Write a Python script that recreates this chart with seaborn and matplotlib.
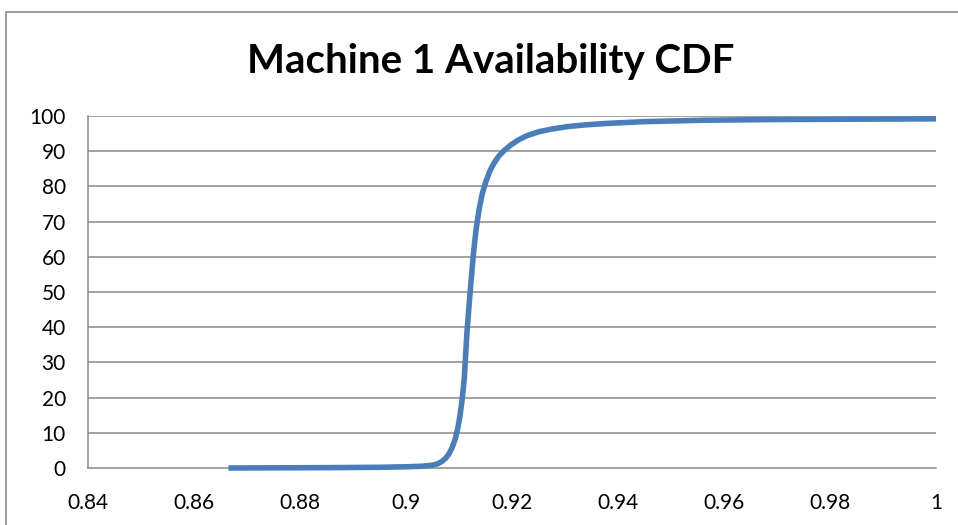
import matplotlib
matplotlib.use("Agg")
import matplotlib.pyplot as plt
import matplotlib.patches as mpatches
import seaborn as sns
import pandas as pd

availability = [0.8665, 0.875, 0.885, 0.895, 0.900, 0.903, 0.905, 0.906, 0.9068,
                0.9075, 0.9081, 0.9087, 0.9093, 0.9098, 0.9102, 0.9106, 0.9110,
                0.9115, 0.9121, 0.9127, 0.9132, 0.9138, 0.9144, 0.9151, 0.9158,
                0.9166, 0.9175, 0.9186, 0.9198, 0.9212, 0.9228, 0.9250, 0.9275,
                0.9305, 0.9340, 0.9380, 0.945, 0.956, 0.970, 0.985, 1.000]
cdf_percent = [0.0, 0.05, 0.1, 0.2, 0.35, 0.5, 0.8, 1.2, 1.9,
               2.8, 4.0, 5.8, 8.3, 11.5, 15.0, 19.5, 25.5,
               38.5, 50.0, 60.5, 67.5, 73.5, 78.0, 81.5, 84.3,
               86.6, 88.6, 90.3, 91.8, 93.2, 94.4, 95.5, 96.3,
               97.0, 97.5, 97.9, 98.4, 98.8, 99.0, 99.1, 99.2]
x_ticks = [0.84, 0.86, 0.88, 0.9, 0.92, 0.94, 0.96, 0.98, 1.0]
x_tick_labels = ["0.84", "0.86", "0.88", "0.9", "0.92", "0.94", "0.96", "0.98", "1"]
y_ticks = [0, 10, 20, 30, 40, 50, 60, 70, 80, 90, 100]
title = "Machine 1 Availability CDF"

sns.set_style("white")
plt.rcParams['font.family'] = ['Lato', 'DejaVu Sans']

df = pd.DataFrame({"availability": availability, "cdf": cdf_percent})

fig = plt.figure(figsize=(9.58, 5.25), dpi=100)
ax = fig.add_axes([88/958, (525-468)/525, (936-88)/958, (468-116)/525])

grid_color = "#898989"
for y in y_ticks[1:]:
    ax.axhline(y, color=grid_color, lw=1.1, zorder=0)

sns.lineplot(data=df, x="availability", y="cdf", ax=ax, color="#4A7EBB",
             linewidth=4.0, solid_capstyle="butt", solid_joinstyle="round",
             zorder=3, clip_on=False)

ax.set_xlim(0.84, 1.0)
ax.set_ylim(0, 100)
ax.set_xticks(x_ticks)
ax.set_xticklabels(x_tick_labels, fontsize=15)
ax.set_yticks(y_ticks)
ax.set_yticklabels([str(v) for v in y_ticks], fontsize=15)
ax.set_xlabel("")
ax.set_ylabel("")
for side in ["top", "right"]:
    ax.spines[side].set_visible(False)
for side in ["left", "bottom"]:
    ax.spines[side].set_color(grid_color)
    ax.spines[side].set_linewidth(1.1)
ax.tick_params(axis="both", direction="out", length=5, width=1.1,
               color=grid_color, labelcolor="black")
ax.tick_params(axis="x", pad=13)
ax.tick_params(axis="y", pad=11)
ax.set_facecolor("none")

fig.text(0.512, 0.882, title, ha="center", va="center", fontsize=29,
         fontweight="bold", color="black")

border = mpatches.Rectangle((6/958, -0.05), 1.0, (525-12)/525 + 0.05,
                            transform=fig.transFigure, fill=False,
                            edgecolor="#8c8c8c", lw=1.2)
fig.patches.append(border)

fig.savefig("out.png", dpi=100)
